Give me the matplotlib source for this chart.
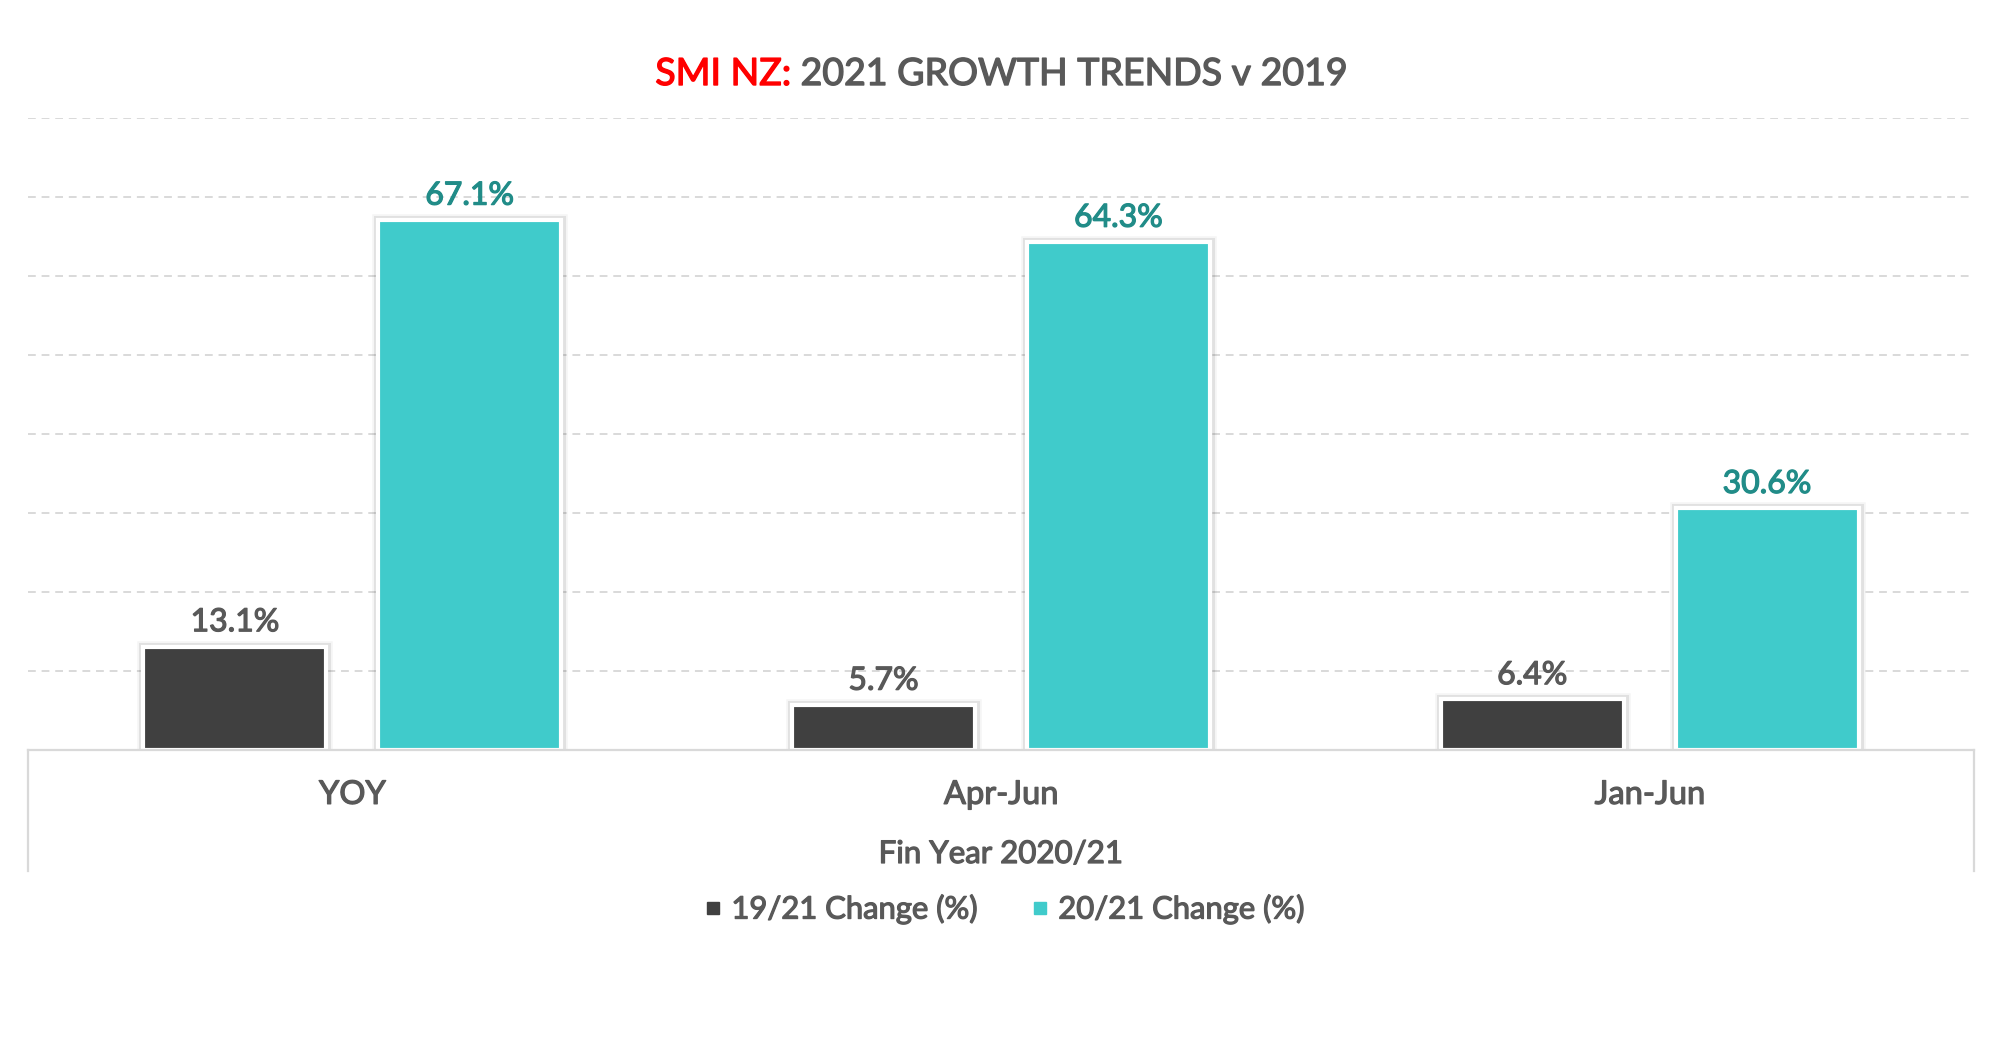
import matplotlib
matplotlib.use("Agg")
import matplotlib.pyplot as plt
import matplotlib.patheffects as pe
from matplotlib.lines import Line2D
import numpy as np

plt.rcParams['font.family'] = ['Lato', 'DejaVu Sans']

categories = ["YOY", "Apr-Jun", "Jan-Jun"]
series_names = ["19/21 Change (%)", "20/21 Change (%)"]
change_19_21 = [13.1, 5.7, 6.4]
change_20_21 = [67.1, 64.3, 30.6]
y_ticks = [0, 10, 20, 30, 40, 50, 60, 70, 80]

dark = "#404040"
cyan = "#40CBCB"
label_dark = "#595959"
label_cyan = "#218C88"
text_gray = "#595959"
grid_col = "#D9D9D9"


def heavy(col, w=0.9):
    return [pe.withStroke(linewidth=w, foreground=col)]


fig = plt.figure(figsize=(20.02, 10.44), dpi=100)
ax = fig.add_axes([28/2002, 1-750/1044, (1974-28)/2002, (750-118)/1044])

x = np.arange(len(categories))
bw = 0.282
off = 0.181

b1 = ax.bar(x - off, change_19_21, bw, color=dark, edgecolor="white", linewidth=3, zorder=3)
b2 = ax.bar(x + off, change_20_21, bw, color=cyan, edgecolor="white", linewidth=3, zorder=3)
for b in list(b1) + list(b2):
    b.set_path_effects([pe.Stroke(linewidth=9, foreground="#000000", alpha=0.04),
                        pe.Stroke(linewidth=6.5, foreground="#000000", alpha=0.08),
                        pe.Normal()])

for bars, vals, col in [(b1, change_19_21, label_dark), (b2, change_20_21, label_cyan)]:
    for rect, v in zip(bars, vals):
        ax.annotate(f"{v:.1f}%", (rect.get_x() + rect.get_width()/2, v),
                    xytext=(0, 11), textcoords="offset points",
                    ha="center", va="baseline", fontsize=23,
                    color=col, zorder=5, path_effects=heavy(col))

ax.set_xlim(-0.5, len(categories) - 0.5)
ax.set_ylim(0, 80)
ax.set_yticks(y_ticks)
ax.yaxis.grid(True, color=grid_col, linestyle=(0, (4, 3)), linewidth=1.4)
ax.set_axisbelow(True)
ax.tick_params(axis="y", left=False, labelleft=False)
ax.set_xticks(x)
ax.set_xticklabels(categories, fontsize=23.5, color=text_gray)
for lab in ax.get_xticklabels():
    lab.set_path_effects(heavy(text_gray))
ax.tick_params(axis="x", bottom=False, pad=18)
for s in ["top", "right", "left"]:
    ax.spines[s].set_visible(False)
ax.spines["bottom"].set_color(grid_col)
ax.spines["bottom"].set_linewidth(1.6)
ax.spines["bottom"].set_zorder(4)

# category box borders
for xf in [28/2002, 1974/2002]:
    fig.add_artist(Line2D([xf, xf], [1-750/1044, 1-871/1044], color=grid_col, linewidth=1.6))

fig.text(0.5, 1-854/1044, "Fin Year 2020/21", ha="center", va="center",
         fontsize=22.5, color=text_gray, path_effects=heavy(text_gray))

# title
ty = 1-74/1044
t1 = fig.text(0.5, ty, "SMI NZ: ", ha="right", va="center", fontsize=27,
              color="#FF0000", path_effects=heavy("#FF0000", 1.0))
fig.canvas.draw()
r = fig.canvas.get_renderer()
w1 = t1.get_window_extent(r).width
t2 = fig.text(0.5, ty, "2021 GROWTH TRENDS v 2019", ha="left", va="center",
              fontsize=27, color=text_gray, path_effects=heavy(text_gray, 1.0))
w2 = t2.get_window_extent(r).width
shift = (w1 - w2) / 2 / 2002
t1.set_x(0.5 + shift)
t2.set_x(0.5 + shift)

handles = [Line2D([], [], marker="s", linestyle="none", markersize=9, color=dark),
           Line2D([], [], marker="s", linestyle="none", markersize=9, color=cyan)]
leg = fig.legend(handles, series_names, loc="center", bbox_to_anchor=(0.5, 1-909/1044),
                 ncol=2, frameon=False, handletextpad=0.1, columnspacing=1.5,
                 handlelength=1.0, labelcolor=text_gray, prop={"size": 22.3})
for t in leg.get_texts():
    t.set_path_effects(heavy(text_gray))

fig.savefig("out.png", dpi=100, facecolor="white")
